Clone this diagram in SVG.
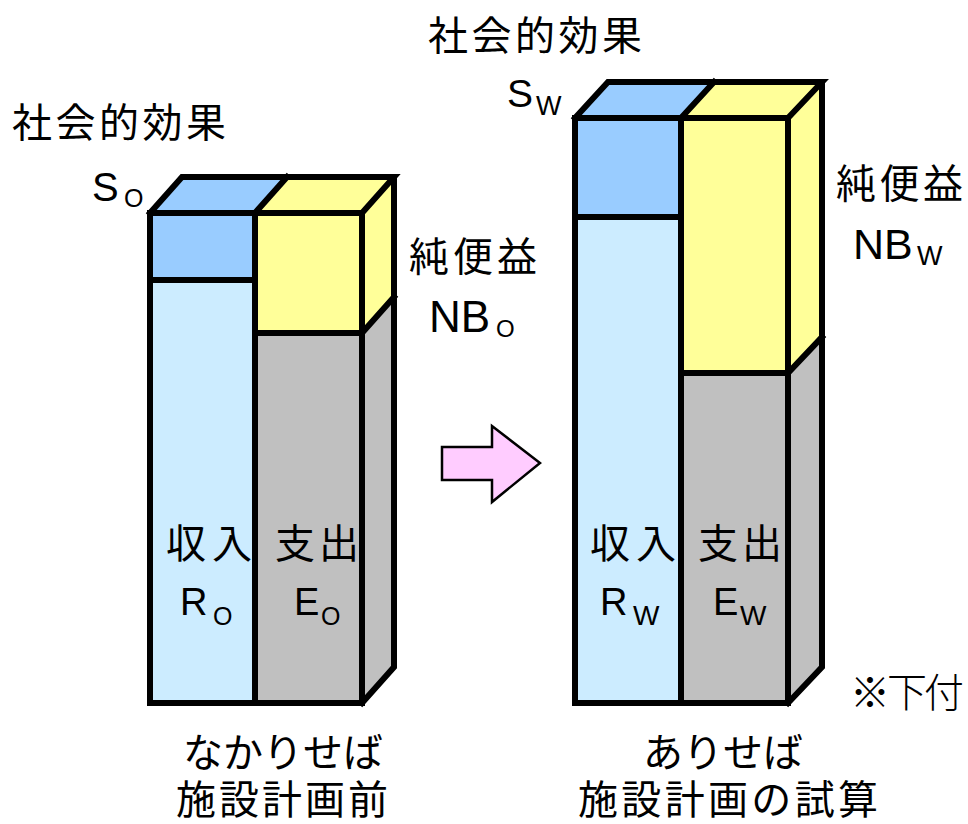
<svg xmlns="http://www.w3.org/2000/svg" width="968" height="824" viewBox="0 0 968 824">
<defs>
<style>
.ln{fill:none;stroke:#000;stroke-width:6;stroke-linejoin:miter;stroke-linecap:square}
.lb{fill:#CCECFF}.bl{fill:#99CCFF}.ye{fill:#FFFF99}.gr{fill:#C0C0C0}
.jp{font-family:'Liberation Sans','Noto Sans CJK JP',sans-serif;font-size:40px;fill:#000}
.la{font-family:'Liberation Sans','Noto Sans CJK JP',sans-serif;fill:#000}
</style>
</defs>
<rect width="968" height="824" fill="#fff"/>

<g id="box-before">
<rect class="lb" x="150" y="280" width="105" height="423"/>
<rect class="bl" x="150" y="213" width="105" height="67"/>
<rect class="ye" x="255" y="213" width="107" height="120"/>
<rect class="gr" x="255" y="333" width="107" height="370"/>
<polygon class="bl" points="150,213 182,177 287,177 255,213"/>
<polygon class="ye" points="255,213 287,177 394,177 362,213"/>
<polygon class="ye" points="362,213 394,177 394,297 362,333"/>
<polygon class="gr" points="362,333 394,297 394,667 362,703"/>
<rect class="ln" x="150" y="213" width="212" height="490"/>
<path class="ln" d="M255,213V703M150,280H255M255,333H362M150,213L182,177H394L362,213M255,213L287,177M394,177V667L362,703M362,333L394,297"/>
</g>

<g id="box-after">
<rect class="lb" x="575" y="217" width="106" height="486"/>
<rect class="bl" x="575" y="118" width="106" height="99"/>
<rect class="ye" x="681" y="118" width="107" height="255"/>
<rect class="gr" x="681" y="373" width="107" height="330"/>
<polygon class="bl" points="575,118 608,82 714,82 681,118"/>
<polygon class="ye" points="681,118 714,82 822,82 788,118"/>
<polygon class="ye" points="788,118 822,82 822,337 788,373"/>
<polygon class="gr" points="788,373 822,337 822,667 788,703"/>
<rect class="ln" x="575" y="118" width="213" height="585"/>
<path class="ln" d="M681,118V703M575,217H681M681,373H788M575,118L608,82H822L788,118M681,118L714,82M822,82V667L788,703M788,373L822,337"/>
</g>

<g id="connectors">
<polygon points="442,447 492,447 492,426 540,463 492,502 492,480 442,480" fill="#FFCCFF" stroke="#000" stroke-width="2.5" stroke-linejoin="miter"/>
</g>

<g id="labels-before">
<text class="jp" x="12" y="137" textLength="214" lengthAdjust="spacing">社会的効果</text>
<text class="la" x="92" y="201" font-size="40">S</text>
<text class="la" x="124" y="207" font-size="25">O</text>
<text class="jp" x="409" y="271" textLength="128" lengthAdjust="spacing">純便益</text>
<text class="la" x="429" y="332" font-size="44">NB</text>
<text class="la" x="496" y="337" font-size="24">O</text>
<text class="jp" x="166" y="558" textLength="86" lengthAdjust="spacing">収入</text>
<text class="la" x="180" y="615" font-size="38">R</text>
<text class="la" x="213" y="625" font-size="25">O</text>
<text class="jp" x="275" y="558" textLength="84" lengthAdjust="spacing">支出</text>
<text class="la" x="294" y="615" font-size="38">E</text>
<text class="la" x="321" y="625" font-size="25">O</text>
<text class="jp" x="183" y="767" textLength="200" lengthAdjust="spacing">なかりせば</text>
<text class="jp" x="176" y="814" textLength="212" lengthAdjust="spacing">施設計画前</text>
</g>

<g id="labels-after">
<text class="jp" x="428" y="50" textLength="214" lengthAdjust="spacing">社会的効果</text>
<text class="la" x="507" y="107" font-size="39">S</text>
<text class="la" x="536" y="115" font-size="27">W</text>
<text class="jp" x="836" y="198" textLength="127" lengthAdjust="spacing">純便益</text>
<text class="la" x="853" y="259" font-size="43">NB</text>
<text class="la" x="917" y="265" font-size="27">W</text>
<text class="jp" x="590" y="558" textLength="86" lengthAdjust="spacing">収入</text>
<text class="la" x="600" y="615" font-size="38">R</text>
<text class="la" x="633" y="625" font-size="28">W</text>
<text class="jp" x="698" y="558" textLength="84" lengthAdjust="spacing">支出</text>
<text class="la" x="713" y="615" font-size="38">E</text>
<text class="la" x="740" y="625" font-size="28">W</text>
<text class="jp" x="643" y="767" textLength="160" lengthAdjust="spacing">ありせば</text>
<text class="jp" x="578" y="814" textLength="300" lengthAdjust="spacing">施設計画の試算</text>
<text class="jp" x="850" y="707" font-size="34" font-weight="300" textLength="114" lengthAdjust="spacing">※下付</text>
</g>
</svg>
